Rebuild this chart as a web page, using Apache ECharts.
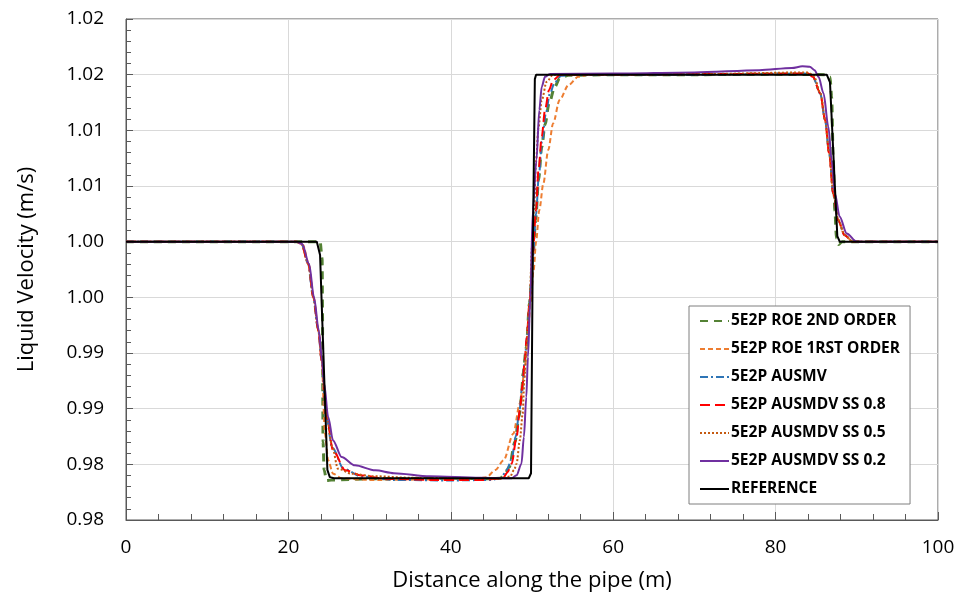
<!DOCTYPE html>
<html>
<head>
<meta charset="utf-8">
<script src="https://cdn.jsdelivr.net/npm/echarts@6/dist/echarts.min.js"></script>
<style>
  html, body { margin: 0; padding: 0; background: #fff; }
  #chart { width: 961px; height: 604px; }
</style>
</head>
<body>
<div id="chart"></div>
<script>
// [distance (m), liquid velocity (m/s)]
var roe2nd = [[0,1.0],[23.9,1.0],[24.15,0.9985],[24.2,0.994],[24.22,0.988],[24.27,0.982],[24.4,0.9795],[24.7,0.97855],[25.3,0.9786],[30,0.9787],[40,0.97875],[45,0.9787],[46.1,0.97875],[46.7,0.9792],[47.2,0.97976],[47.9,0.982],[48.4,0.98425],[48.7,0.98605],[48.9,0.98815],[49.3,0.9905],[49.7,0.9945],[50.1,0.9985],[50.45,1.002],[50.8,1.0055],[51.2,1.0085],[51.6,1.0105],[52.1,1.0124],[52.8,1.0139],[53.4,1.01467],[54.5,1.01495],[60,1.015],[70,1.015],[80,1.01505],[86.3,1.015],[86.7,1.0148],[86.9,1.013],[87.1,1.0073],[87.3,1.0028],[87.5,1.0003],[87.75,0.99975],[88.2,1.0],[100,1.0]];
var roe1st = [[0,1.0],[21.0,1.0],[21.8,0.9997],[22.5,0.998],[23.1,0.995],[23.7,0.992],[24.1,0.9893],[24.5,0.98275],[24.9,0.98036],[25.5,0.97916],[26.55,0.97874],[30,0.9786],[40,0.97865],[43.5,0.97875],[44.4,0.97885],[45.5,0.9795],[46.5,0.98036],[47.7,0.98275],[48.5,0.98545],[49.1,0.98845],[49.5,0.99144],[49.8,0.99444],[50.2,0.99744],[50.5,1.0],[50.9,1.00283],[51.4,1.00523],[52.0,1.00823],[52.6,1.01062],[53.4,1.01272],[54.5,1.01407],[55.7,1.01481],[57,1.015],[70,1.015],[84,1.0151],[84.6,1.0148],[85.5,1.0133],[86.1,1.0109],[86.6,1.0079],[87.1,1.0043],[87.7,1.0019],[88.5,1.0006],[89.5,1.0],[100,1.0]];
var ausmv = [[0,1.0],[21.0,1.0],[21.6,0.9998],[22.4,0.9981],[23.0,0.9952],[23.65,0.9922],[24.1,0.9893],[24.6,0.9846],[25.4,0.9815],[26.8,0.9796],[29,0.9789],[33,0.9786],[40,0.97855],[45,0.9786],[46.2,0.9788],[46.9,0.9795],[47.5,0.9805],[48.0,0.9825],[48.4,0.9845],[48.8,0.987],[49.1,0.9893],[49.4,0.9915],[49.75,0.9948],[50.1,0.9985],[50.5,1.0025],[50.85,1.006],[51.25,1.009],[51.7,1.0115],[52.2,1.0133],[52.8,1.0143],[53.6,1.0149],[55,1.015],[70,1.015],[84,1.0151],[84.6,1.0148],[85.5,1.0133],[86.1,1.0109],[86.6,1.0079],[87.1,1.0043],[87.7,1.0019],[88.5,1.0006],[89.5,1.0],[100,1.0]];
var ausmdv08 = [[0,1.0],[21.0,1.0],[21.6,0.9998],[22.45,0.998],[23.07,0.995],[23.7,0.992],[24.1,0.9893],[24.7,0.98425],[25.5,0.98125],[27.0,0.97946],[29.0,0.979],[32,0.9787],[38,0.9786],[44,0.9786],[46.4,0.97875],[47.0,0.9793],[47.5,0.98006],[48.1,0.98245],[48.5,0.98485],[48.85,0.98725],[49.1,0.98935],[49.35,0.99144],[49.7,0.9945],[50.1,0.999],[50.5,1.00283],[50.8,1.00643],[51.2,1.00942],[51.6,1.01182],[52.1,1.01362],[52.6,1.01452],[53.5,1.015],[70,1.01505],[84,1.0151],[84.6,1.01481],[85.5,1.01332],[86.1,1.01092],[86.6,1.00793],[87.1,1.00433],[87.7,1.00193],[88.5,1.00058],[89.5,1.0],[100,1.0]];
var ausmdv05 = [[0,1.0],[21.0,1.0],[21.6,0.9998],[22.45,0.998],[23.07,0.995],[23.7,0.992],[24.1,0.9893],[24.75,0.9843],[25.4,0.9816],[26.1,0.97961],[27.8,0.97916],[30.3,0.97894],[35,0.9788],[42,0.97875],[46,0.9787],[47.3,0.9789],[47.8,0.9795],[48.1,0.98006],[48.5,0.98215],[48.85,0.98455],[49.05,0.98755],[49.3,0.99025],[49.7,0.9945],[50.0,0.9995],[50.25,1.003],[50.5,1.0073],[50.8,1.0103],[51.2,1.0127],[51.8,1.01436],[52.6,1.015],[70,1.01505],[84,1.0152],[84.7,1.0149],[85.5,1.0134],[86.1,1.011],[86.6,1.008],[87.1,1.0044],[87.7,1.002],[88.5,1.0006],[89.5,1.0],[100,1.0]];
var ausmdv02 = [[0,1.0],[21.0,1.0],[21.7,0.9998],[22.55,0.998],[23.15,0.995],[23.75,0.992],[24.15,0.9893],[24.4,0.98725],[24.9,0.98425],[25.5,0.98215],[26.55,0.98066],[28.2,0.97991],[30.7,0.97946],[33,0.9792],[37.4,0.97892],[43.6,0.9788],[47.5,0.97875],[48.1,0.97901],[48.7,0.98006],[49.0,0.98245],[49.3,0.98605],[49.5,0.98965],[49.8,0.995],[50.1,1.00283],[50.55,1.00733],[50.9,1.01182],[51.2,1.01391],[51.6,1.01481],[52.2,1.01505],[60,1.0151],[70,1.0152],[78,1.0154],[82,1.0156],[83.3,1.01575],[84.2,1.01572],[84.8,1.0154],[85.3,1.0148],[85.9,1.01332],[86.5,1.01032],[86.9,1.00733],[87.3,1.00433],[87.9,1.00223],[88.75,1.00074],[90.0,1.0],[100,1.0]];
var reference = [[0,1.0],[23.5,1.0],[23.9,0.9988],[24.4,0.988],[24.8,0.9795],[25.1,0.97885],[25.6,0.97875],[49.6,0.97875],[49.88,0.9792],[50.1,0.9992],[50.35,1.0146],[50.5,1.015],[86.3,1.015],[86.7,1.0143],[87.3,1.005],[87.6,1.0005],[87.9,1.0],[100,1.0]];

var names = ['5E2P ROE 2ND ORDER', '5E2P ROE 1RST ORDER', '5E2P AUSMV', '5E2P AUSMDV SS 0.8', '5E2P AUSMDV SS 0.5', '5E2P AUSMDV SS 0.2', 'REFERENCE'];

var chart = echarts.init(document.getElementById('chart'));

function line(name, data, color, width, type, smooth) {
    return {
        name: name,
        type: 'line',
        data: data,
        symbol: 'none',
        showSymbol: false,
        smooth: smooth,
        smoothMonotone: 'x',
        animation: false,
        lineStyle: { color: color, width: width, type: type },
        itemStyle: { color: color }
    };
}

var option = {
    backgroundColor: '#fff',
    textStyle: { fontFamily: 'Open Sans' },
    grid: {
        left: 126, right: 23, top: 19, bottom: 84,
        show: true, borderColor: '#595959', borderWidth: 1
    },
    legend: {
        orient: 'vertical',
        left: 689, top: 306,
        padding: [7, 10, 7, 10],
        itemGap: 12,
        itemWidth: 29,
        itemHeight: 14,
        itemStyle: { opacity: 0 },
        backgroundColor: '#fff',
        borderColor: '#7f7f7f',
        borderWidth: 1,
        textStyle: { fontFamily: 'Open Sans', fontSize: 15.5, lineHeight: 14, fontWeight: 'bold', color: '#000', padding: [0, 0, 0, -3] },
        data: names
    },
    xAxis: {
        type: 'value',
        min: 0, max: 100, interval: 20,
        name: 'Distance along the pipe (m)',
        nameLocation: 'middle',
        nameGap: 50,
        nameTextStyle: { fontSize: 22, color: '#000' },
        axisLine: { lineStyle: { color: '#595959' } },
        axisTick: { inside: true, length: 8, lineStyle: { color: '#595959' } },
        minorTick: { show: true, splitNumber: 5, length: 6, lineStyle: { color: '#595959' } },
        axisLabel: { fontSize: 19, color: '#000', margin: 18 },
        splitLine: { show: true, lineStyle: { color: '#d9d9d9' } }
    },
    yAxis: {
        type: 'value',
        min: 0.975, max: 1.02, interval: 0.005,
        name: 'Liquid Velocity (m/s)',
        nameLocation: 'middle',
        nameGap: 88,
        nameTextStyle: { fontSize: 22, color: '#000' },
        axisLine: { show: true, lineStyle: { color: '#595959' } },
        axisTick: { show: true, inside: true, length: 7, lineStyle: { color: '#595959' } },
        minorTick: { show: true, splitNumber: 5, length: 5, lineStyle: { color: '#595959' } },
        axisLabel: {
            fontSize: 19, color: '#000', margin: 22,
            formatter: function (v) { return (Math.round(v * 100 + 1e-6) / 100).toFixed(2); }
        },
        splitLine: { show: true, lineStyle: { color: '#d9d9d9' } }
    },
    series: [
        line(names[0], roe2nd, '#548235', 3, [8, 6], 0.3),
        line(names[1], roe1st, '#ED7D31', 2, [5, 3], 0.3),
        line(names[2], ausmv, '#2E75B6', 2, [8, 3, 2, 3], 0.3),
        line(names[3], ausmdv08, '#FF0000', 2, [10, 5], 0.3),
        line(names[4], ausmdv05, '#C55A11', 2, [2, 2], 0.3),
        line(names[5], ausmdv02, '#7030A0', 2, 'solid', 0.3),
        line(names[6], reference, '#000000', 2, 'solid', false)
    ]
};

chart.setOption(option);
</script>
</body>
</html>
